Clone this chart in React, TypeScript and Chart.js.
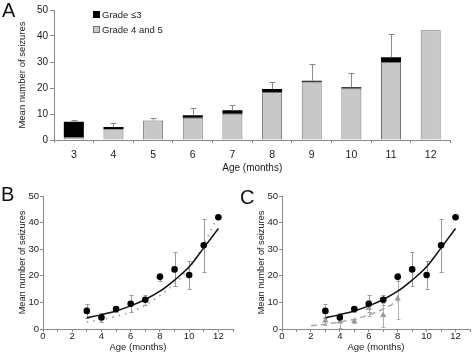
import React, { useEffect, useRef } from "react";
import { Chart, registerables } from "chart.js";

Chart.register(...registerables);

// ---------- Panel A data ----------
const months = ["3", "4", "5", "6", "7", "8", "9", "10", "11", "12"];
const legendLow = "Grade ≤3";
const legendHigh = "Grade 4 and 5";
const gradeHigh = [1.0, 4.1, 7.5, 8.6, 10.1, 18.5, 22.4, 19.8, 30.0, 42.2];
const gradeLow = [6.0, 0.9, 0, 0.9, 1.3, 1.1, 0.4, 0.5, 1.8, 0];
const totalErr = [0.7, 1.6, 1.0, 2.8, 2.0, 2.6, 6.5, 5.3, 8.9, 0];

// ---------- Panels B & C data ----------
const ageX = [3, 4, 5, 6, 7, 8, 9, 10, 11, 12];
const meanAll = [6.8, 4.3, 7.5, 9.5, 11.0, 19.6, 22.4, 20.3, 31.5, 42.0];
const errAll = [2.6, 1.8, 1.0, 3.2, 1.9, 1.5, 6.4, 5.2, 10.0, 0];
const fitAllX = [3, 4, 5, 6, 7, 8, 9, 10, 11, 12];
const fitAllY = [4.2, 5.4, 6.8, 8.7, 11.1, 14.2, 18.4, 23.4, 30.5, 37.8];
const fitDotX = [3, 4, 5, 6, 7, 8, 9, 10, 11, 12];
const fitDotY = [2.6, 3.5, 4.8, 6.4, 9.0, 12.6, 17.0, 23.0, 31.7, 43.0];
const triX = [3, 4, 5, 6, 7, 8];
const triMean = [3.1, 2.7, 2.9, 7.8, 5.2, 11.4];
const triErr = [1.5, 2.4, 0.8, 3.0, 4.4, 7.8];
const fitTriX = [2, 3, 4, 5, 6, 7, 8];
const fitTriY = [1.2, 1.8, 2.6, 3.7, 5.3, 7.5, 10.5];

const yTitle = "Mean number of seizures";
const xTitle = "Age (months)";

const fontFam = "'Liberation Sans', Arial, Helvetica, sans-serif";
const axisGray = "#8a8a8a";
const textColor = "#1a1a1a";
Chart.defaults.font.family = fontFam;

const pts = (xs: number[], ys: number[]) => xs.map((x, i) => ({ x, y: ys[i] }));

type ErrSeries = { xs: number[]; ys: number[]; errs: number[]; color: string; cap: number };
function makeErrPlugin(id: string, series: ErrSeries[]) {
  return {
    id,
    beforeDatasetsDraw(chart: any) {
      const { ctx, scales } = chart;
      const sx = scales.x;
      const sy = scales.y;
      ctx.save();
      ctx.lineWidth = 1;
      series.forEach((s) => {
        ctx.strokeStyle = s.color;
        s.xs.forEach((xv, i) => {
          const e = s.errs[i];
          if (!e) return;
          const px = Math.round(sx.getPixelForValue(xv)) + 0.5;
          const top = Math.round(sy.getPixelForValue(s.ys[i] + e)) + 0.5;
          const bot = Math.round(sy.getPixelForValue(Math.max(0, s.ys[i] - e))) + 0.5;
          ctx.beginPath();
          ctx.moveTo(px, top);
          ctx.lineTo(px, bot);
          ctx.moveTo(px - s.cap, top);
          ctx.lineTo(px + s.cap, top);
          ctx.moveTo(px - s.cap, bot);
          ctx.lineTo(px + s.cap, bot);
          ctx.stroke();
        });
      });
      ctx.restore();
    },
  };
}

const barErrPlugin = {
  id: "barErr",
  afterDatasetsDraw(chart: any) {
    const { ctx, scales } = chart;
    ctx.save();
    ctx.strokeStyle = "#8a8a8a";
    ctx.lineWidth = 1;
    totalErr.forEach((e, i) => {
      if (!e) return;
      const tot = gradeHigh[i] + gradeLow[i];
      const px = Math.round(scales.x.getPixelForValue(i)) + 0.5;
      const y0 = scales.y.getPixelForValue(tot);
      const y1 = Math.round(scales.y.getPixelForValue(tot + e)) + 0.5;
      ctx.beginPath();
      ctx.moveTo(px, y0);
      ctx.lineTo(px, y1);
      ctx.moveTo(px - 3, y1);
      ctx.lineTo(px + 3, y1);
      ctx.stroke();
    });
    ctx.restore();
  },
};

const legendPlugin = {
  id: "boxLegend",
  afterDraw(chart: any) {
    const { ctx, chartArea } = chart;
    const x0 = Math.round(chartArea.left + 39);
    const y0 = Math.round(chartArea.top + 1);
    const items = [
      { text: legendLow, fill: "#000000", stroke: "#000000" },
      { text: legendHigh, fill: "#c8c8c8", stroke: "#707070" },
    ];
    ctx.save();
    ctx.font = `9.5px ${fontFam}`;
    ctx.textBaseline = "middle";
    ctx.textAlign = "left";
    items.forEach((it, i) => {
      const y = y0 + i * 15;
      ctx.fillStyle = it.fill;
      ctx.fillRect(x0, y, 7, 7);
      ctx.strokeStyle = it.stroke;
      ctx.lineWidth = 1;
      ctx.strokeRect(x0 + 0.5, y + 0.5, 6, 6);
      ctx.fillStyle = textColor;
      ctx.fillText(it.text, x0 + 9, y + 4);
    });
    ctx.restore();
  },
};

function configA(): any {
  return {
    type: "bar",
    data: {
      labels: months,
      datasets: [
        {
          label: legendHigh,
          data: gradeHigh,
          backgroundColor: "#c8c8c8",
          borderColor: "#707070",
          borderWidth: 1,
          barPercentage: 0.505,
          categoryPercentage: 1,
          stack: "s",
        },
        {
          label: legendLow,
          data: gradeLow,
          backgroundColor: "#000000",
          borderWidth: 0,
          barPercentage: 0.505,
          categoryPercentage: 1,
          stack: "s",
        },
      ],
    },
    options: {
      responsive: false,
      animation: false,
      layout: { padding: { left: 0, right: 23.5, top: 10, bottom: 0 } },
      plugins: { legend: { display: false }, tooltip: { enabled: false } },
      scales: {
        x: {
          stacked: true,
          grid: { drawOnChartArea: false, drawTicks: true, tickLength: 3, color: axisGray, offset: true },
          border: { color: axisGray, width: 1 },
          ticks: { color: textColor, font: { size: 10.5 }, padding: 6, maxRotation: 0 },
          title: { display: true, text: xTitle, color: textColor, font: { size: 10 }, padding: { top: 0, bottom: 6 } },
          afterFit: (s: any) => {
            s.height = 40;
          },
        },
        y: {
          stacked: true,
          min: 0,
          max: 50,
          ticks: { stepSize: 10, color: textColor, font: { size: 10 }, padding: 2 },
          grid: { drawOnChartArea: false, drawTicks: true, tickLength: 4, color: axisGray },
          border: { color: axisGray, width: 1 },
          title: { display: true, text: yTitle, color: textColor, font: { size: 9.5 }, padding: { top: 17, bottom: 0 } },
          afterFit: (s: any) => {
            s.width = 54;
          },
        },
      },
    },
    plugins: [barErrPlugin, legendPlugin],
  };
}

function scatterScales(): any {
  return {
    x: {
      type: "linear",
      min: 0,
      max: 13,
      ticks: {
        stepSize: 1,
        autoSkip: false,
        maxRotation: 0,
        color: textColor,
        font: { size: 9.5 },
        padding: -1.5,
        callback: (v: any) => (Number(v) % 2 === 0 ? String(v) : ""),
      },
      grid: { drawOnChartArea: false, drawTicks: true, tickLength: 3, color: axisGray },
      border: { color: axisGray, width: 1 },
      title: { display: true, text: xTitle, color: textColor, font: { size: 9.5 }, padding: { top: 0, bottom: 2.3 } },
      afterFit: (s: any) => {
        s.height = 26;
      },
    },
    y: {
      min: 0,
      max: 50,
      ticks: { stepSize: 10, color: textColor, font: { size: 9.5 }, padding: 1 },
      grid: { drawOnChartArea: false, drawTicks: true, tickLength: 3, color: axisGray },
      border: { color: axisGray, width: 1 },
      title: { display: true, text: yTitle, color: textColor, font: { size: 9.2 }, padding: { top: 16.6, bottom: 0 } },
      afterFit: (s: any) => {
        s.width = 43;
      },
    },
  };
}

const dotsDataset = () => ({
  label: "All",
  data: pts(ageX, meanAll),
  pointRadius: 3.3,
  pointBackgroundColor: "#000000",
  pointBorderWidth: 0,
  showLine: false,
});
const fitAllDataset = () => ({
  label: "Fit",
  data: pts(fitAllX, fitAllY),
  showLine: true,
  pointRadius: 0,
  borderColor: "#111111",
  borderWidth: 1.5,
  cubicInterpolationMode: "monotone",
});

function configB(): any {
  return {
    type: "scatter",
    data: {
      datasets: [
        dotsDataset(),
        fitAllDataset(),
        {
          label: "Fit grade",
          data: pts(fitDotX, fitDotY),
          showLine: true,
          pointRadius: 0,
          borderColor: "#a8a8a8",
          borderWidth: 2,
          borderDash: [1.5, 5],
          cubicInterpolationMode: "monotone",
        },
      ],
    },
    options: {
      responsive: false,
      animation: false,
      layout: { padding: { left: 0, right: 3.8, top: 16, bottom: 0 } },
      plugins: { legend: { display: false }, tooltip: { enabled: false } },
      scales: scatterScales(),
    },
    plugins: [makeErrPlugin("errB", [{ xs: ageX, ys: meanAll, errs: errAll, color: "#9a9a9a", cap: 2 }])],
  };
}

function configC(): any {
  return {
    type: "scatter",
    data: {
      datasets: [
        dotsDataset(),
        {
          label: "Grade 4 and 5",
          data: pts(triX, triMean),
          pointStyle: "triangle",
          pointRadius: 3.6,
          pointBackgroundColor: "#9a9a9a",
          pointBorderColor: "#9a9a9a",
          pointBorderWidth: 0,
          showLine: false,
        },
        fitAllDataset(),
        {
          label: "Fit grade 4 and 5",
          data: pts(fitTriX, fitTriY),
          showLine: true,
          pointRadius: 0,
          borderColor: "#a8a8a8",
          borderWidth: 1.5,
          borderDash: [6, 4],
          cubicInterpolationMode: "monotone",
        },
      ],
    },
    options: {
      responsive: false,
      animation: false,
      layout: { padding: { left: 0, right: 1.8, top: 16, bottom: 0 } },
      plugins: { legend: { display: false }, tooltip: { enabled: false } },
      scales: scatterScales(),
    },
    plugins: [
      makeErrPlugin("errC", [
        { xs: ageX, ys: meanAll, errs: errAll, color: "#9a9a9a", cap: 2 },
        { xs: triX, ys: triMean, errs: triErr, color: "#b0b0b0", cap: 2 },
      ]),
    ],
  };
}

const letterStyle = (left: number, top: number): React.CSSProperties => ({
  position: "absolute",
  left,
  top,
  fontFamily: fontFam,
  fontSize: 20,
  lineHeight: "20px",
  color: "#111",
});

export default function App() {
  const refA = useRef<HTMLCanvasElement>(null);
  const refB = useRef<HTMLCanvasElement>(null);
  const refC = useRef<HTMLCanvasElement>(null);

  useEffect(() => {
    const charts = [
      new Chart(refA.current as HTMLCanvasElement, configA()),
      new Chart(refB.current as HTMLCanvasElement, configB()),
      new Chart(refC.current as HTMLCanvasElement, configC()),
    ];
    return () => charts.forEach((c) => c.destroy());
  }, []);

  return (
    <div
      style={{
        position: "absolute",
        left: 0,
        top: 0,
        width: 474,
        height: 355,
        background: "#ffffff",
        overflow: "hidden",
      }}
    >
      <canvas ref={refA} width={474} height={180} style={{ position: "absolute", left: 0, top: 0 }} />
      <canvas ref={refB} width={237} height={175} style={{ position: "absolute", left: 0, top: 180 }} />
      <canvas ref={refC} width={235} height={175} style={{ position: "absolute", left: 239, top: 180 }} />
      <div style={letterStyle(2, 0)}>A</div>
      <div style={letterStyle(1, 184)}>B</div>
      <div style={letterStyle(240, 187)}>C</div>
    </div>
  );
}
